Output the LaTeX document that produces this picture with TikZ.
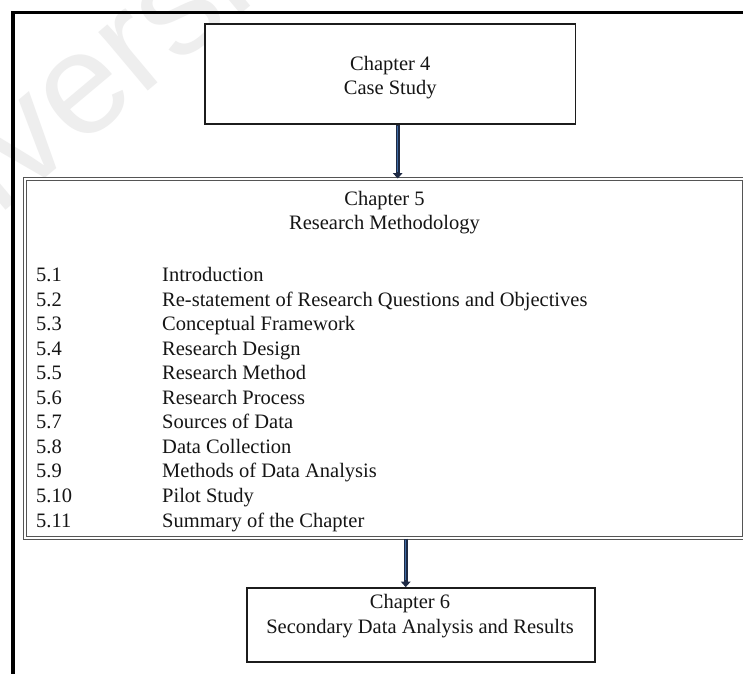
\documentclass[tikz,border=0pt]{standalone}
\usepackage{fontspec}
\setmainfont{Liberation Serif}
\newfontfamily\wmfont{Liberation Sans}
\usetikzlibrary{arrows.meta}

\definecolor{arrowfill}{HTML}{3E6AA3}
\definecolor{arrowedge}{HTML}{1E2A44}
\definecolor{boxline}{HTML}{1C1C1C}
\definecolor{dblline}{HTML}{555555}
\definecolor{wmgray}{HTML}{EEEEEE}
\definecolor{txt}{HTML}{151515}

\tikzset{
  chapbox/.style={draw=boxline, line width=1.5pt, fill=white, inner sep=0pt},
  methodbox/.style={draw=dblline, line width=1pt, double=white,
    double distance=2pt, inner sep=0pt},
  label/.style={anchor=base, inner sep=0pt, text=txt,
    font=\fontsize{20.5}{24.5}\selectfont},
  entry/.style={anchor=base west, inner sep=0pt, text=txt,
    font=\fontsize{20.5}{24.5}\selectfont},
  flowedge/.style={draw=arrowedge, line width=3.8pt,
    -{Triangle[length=5.5pt,width=9.5pt]}},
  flowcore/.style={draw=arrowfill, line width=1.5pt},
  frameline/.style={draw=black, line width=3.4pt},
}

\begin{document}
\begin{tikzpicture}[x=1pt, y=-1pt]
\useasboundingbox (0,0) rectangle (743,673);
\fill[white] (0,0) rectangle (743,673);

% faint repository watermark
\node[rotate=40, text=wmgray, inner sep=0pt,
  font=\wmfont\fontsize{145}{145}\selectfont] (wm) at (24,128) {Universi};

% page frame
\draw[frameline] (760,12.7) -- (13,12.7) -- (13,690);

% chapter boxes
\node[chapbox, minimum width=370.5pt, minimum height=100pt] (c4) at (390.25,74) {};
\node[methodbox, minimum width=719pt, minimum height=359pt] (c5) at (384.5,358.5) {};
\node[chapbox, line width=1.7pt, minimum width=348pt, minimum height=74pt] (c6) at (421,625) {};

% box titles
\node[label] (c4a) at (390.25,70) {Chapter 4};
\node[label] (c4b) at (390.25,94.5) {Case Study};
\node[label] (c5a) at (384.5,205) {Chapter 5};
\node[label] (c5b) at (384.5,229.5) {Research Methodology};
\node[label] (c6a) at (410,608) {Chapter 6};
\node[label] (c6b) at (420,633) {Secondary Data Analysis and Results};

% section list
\foreach \num/\title [count=\i from 0] in {
  5.1/Introduction,
  5.2/Re-statement of Research Questions and Objectives,
  5.3/Conceptual Framework,
  5.4/Research Design,
  5.5/Research Method,
  5.6/Research Process,
  5.7/Sources of Data,
  5.8/Data Collection,
  5.9/Methods of Data Analysis,
  5.10/Pilot Study,
  5.11/Summary of the Chapter} {
  \node[entry] (num\i) at (36,{281.5+24.55*\i}) {\num};
  \node[entry] (sec\i) at (162,{281.5+24.55*\i}) {\title};
}

% connectors between chapters
\coordinate (a1) at (397.7,0);
\coordinate (a2) at (405.7,0);
\draw[flowedge] (a1 |- c4.south) -- (a1 |- c5.north);
\draw[flowcore] ([yshift=-1pt]a1 |- c4.south) -- ([yshift=7pt]a1 |- c5.north);
\draw[flowedge] (a2 |- c5.south) -- (a2 |- c6.north);
\draw[flowcore] ([yshift=-1pt]a2 |- c5.south) -- ([yshift=7pt]a2 |- c6.north);
\end{tikzpicture}
\end{document}
